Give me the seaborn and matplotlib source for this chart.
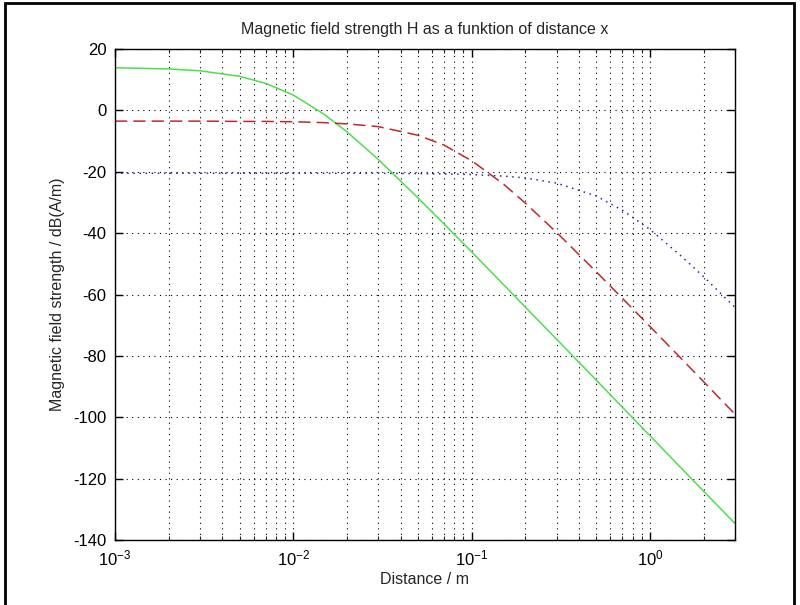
import matplotlib
matplotlib.use("Agg")
import matplotlib.pyplot as plt
import pandas as pd
import seaborn as sns
from matplotlib.patches import Rectangle
from matplotlib.ticker import LogLocator, NullFormatter, MultipleLocator

# distance in m
distance = [0.001, 0.002, 0.003, 0.005, 0.007, 0.01, 0.015, 0.02, 0.03, 0.05, 0.07,
            0.1, 0.15, 0.2, 0.3, 0.5, 0.7, 1.0, 1.5, 2.0, 3.0]

# field strength in dB(A/m) for the three curves
h_green = [13.9, 13.5, 12.9, 11.1, 8.8, 5.0, -1.4, -7.0, -16.0, -28.5, -37.0,
           -46.1, -56.6, -64.1, -74.6, -87.9, -96.7, -106.0, -116.6, -124.1, -134.6]
h_red = [-3.5, -3.5, -3.5, -3.6, -3.6, -3.7, -4.0, -4.4, -5.3, -8.1, -11.3,
         -16.4, -23.9, -30.2, -39.8, -52.6, -61.2, -70.4, -80.9, -88.4, -99.0]
h_blue = [-20.5, -20.5, -20.5, -20.5, -20.5, -20.5, -20.5, -20.5, -20.5, -20.6, -20.7,
          -20.9, -21.4, -22.0, -23.7, -27.9, -32.5, -38.8, -47.5, -54.2, -64.2]

df = pd.DataFrame({"x": distance, "green": h_green, "red": h_red, "blue": h_blue})

sns.set_theme(style="ticks")
plt.rcParams["font.family"] = ["Liberation Sans", "DejaVu Sans"]
plt.rcParams["mathtext.fontset"] = "custom"
plt.rcParams["mathtext.rm"] = "Liberation Sans"
plt.rcParams["mathtext.it"] = "Liberation Sans"
plt.rcParams["axes.unicode_minus"] = False

fig = plt.figure(figsize=(8.0, 6.05), dpi=100)
ax = fig.add_axes([0.14375, 0.1074, 0.775, 0.8116])

sns.lineplot(data=df, x="x", y="green", ax=ax, color="#4ddf4d", lw=1.1, linestyle="-")
sns.lineplot(data=df, x="x", y="red", ax=ax, color="#c0282c", lw=1.1, linestyle=(0, (8, 4)))
sns.lineplot(data=df, x="x", y="blue", ax=ax, color="#2a2a9a", lw=1.1, linestyle=(0, (1, 3)))

ax.set_xscale("log")
ax.set_xlim(1e-3, 3)
ax.set_ylim(-140, 20)
ax.yaxis.set_major_locator(MultipleLocator(20))
ax.xaxis.set_major_locator(LogLocator(base=10))
ax.xaxis.set_minor_locator(LogLocator(base=10, subs=range(2, 10)))
ax.xaxis.set_minor_formatter(NullFormatter())

grid_style = dict(color="black", linestyle=(0, (1, 4)), linewidth=0.8)
ax.grid(True, which="major", axis="both", **grid_style)
ax.grid(True, which="minor", axis="x", **grid_style)

ax.tick_params(which="major", direction="in", length=6, width=1, top=True, right=True,
               labelsize=12, colors="black", pad=6)
ax.tick_params(which="minor", direction="in", length=3, width=0.8, top=True, right=True)
for sp in ax.spines.values():
    sp.set_visible(True)
    sp.set_color("black")
    sp.set_linewidth(1)

ax.set_title("Magnetic field strength H as a funktion of distance x", fontsize=11.5, pad=11)
ax.set_xlabel("Distance / m", fontsize=11.5, labelpad=3)
ax.set_ylabel("Magnetic field strength / dB(A/m)", fontsize=11.5, labelpad=6)

# black frame around the figure
fig.add_artist(Rectangle((0.006, -0.02), 0.986, 1.015, transform=fig.transFigure,
                         fill=False, edgecolor="black", linewidth=2))

fig.savefig("out.png", dpi=100, facecolor="white")
